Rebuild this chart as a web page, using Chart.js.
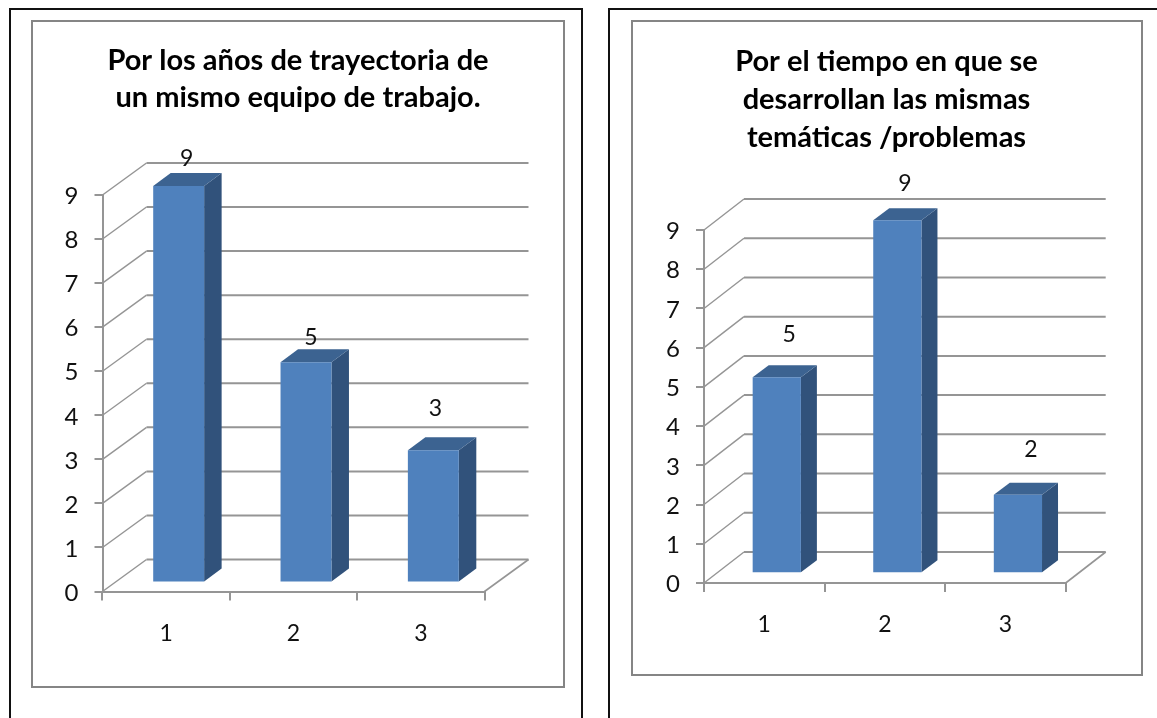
<!DOCTYPE html>
<html lang="es">
<head>
<meta charset="utf-8">
<title>Trayectoria de equipos y temáticas</title>
<script src="https://cdn.jsdelivr.net/npm/chart.js@4/dist/chart.umd.min.js"></script>
<style>
  html, body { margin: 0; padding: 0; background: #fff; overflow: hidden; }
  body { position: relative; width: 1157px; height: 718px; }
  .sheet { position: absolute; box-sizing: border-box; border: 2px solid #111; }
  .frame { position: absolute; box-sizing: border-box; border: 2px solid #858585; }
  canvas { position: absolute; display: block; }
</style>
</head>
<body>
<div class="sheet" style="left:9px;top:8px;width:574px;height:730px"></div>
<div class="sheet" style="left:608px;top:8px;width:580px;height:730px"></div>
<div class="frame" style="left:31px;top:20px;width:534px;height:668px"></div>
<div class="frame" style="left:631px;top:20px;width:512px;height:656px"></div>
<canvas id="teamChart" width="530" height="664" style="left:33px;top:22px"></canvas>
<canvas id="topicChart" width="507" height="653" style="left:633px;top:22px"></canvas>
<script>
const categories = ['1', '2', '3'];
const teamValues = [9, 5, 3];
const topicValues = [5, 9, 2];
const teamTitle = ['Por los años de trayectoria de', 'un mismo equipo de trabajo.'];
const topicTitle = ['Por el tiempo en que se', 'desarrollan las mismas', 'temáticas /problemas'];
const axisMax = 9;

const FONT = 'Lato, "Open Sans", sans-serif';
const FRONT = '#4f81bd', SIDE = '#31527b', TOP = '#3c6391', GRID = '#959595';

// Extrudes the flat bars into prisms, and draws the receding walls behind them.
const prismPlugin = {
  id: 'prism',
  afterLayout(chart) {
    // The title stays centred on the whole panel, not on the narrower plot.
    chart.titleBlock.left = 0;
    chart.titleBlock.right = chart.width;
  },
  beforeDatasetsDraw(chart, args, opts) {
    const { ctx, scales: { x, y } } = chart;
    const { wallX, wallY } = opts;
    ctx.save();
    ctx.strokeStyle = GRID;
    for (const tick of y.ticks) {
      const py = y.getPixelForValue(tick.value);
      ctx.lineWidth = 1.4;
      ctx.beginPath();
      ctx.moveTo(x.left, py);
      ctx.lineTo(x.left + wallX, py + wallY);
      ctx.stroke();
      ctx.lineWidth = 2;
      ctx.beginPath();
      ctx.moveTo(x.left + wallX, py + wallY);
      ctx.lineTo(x.right + wallX, py + wallY);
      ctx.stroke();
    }
    // Outer edge of the floor.
    const floor = y.getPixelForValue(0);
    ctx.lineWidth = 1.6;
    ctx.beginPath();
    ctx.moveTo(x.right, floor);
    ctx.lineTo(x.right + wallX, floor + wallY);
    ctx.stroke();
    ctx.restore();
  },
  beforeDatasetDraw(chart, args, opts) {
    const { ctx } = chart;
    const { shiftX, shiftY, depthX, depthY } = opts;
    ctx.save();
    ctx.translate(shiftX, shiftY);
    for (const bar of chart.getDatasetMeta(args.index).data) {
      const half = bar.width / 2, l = bar.x - half, r = bar.x + half;
      ctx.fillStyle = SIDE;
      ctx.beginPath();
      ctx.moveTo(r, bar.y);
      ctx.lineTo(r + depthX, bar.y + depthY);
      ctx.lineTo(r + depthX, bar.base + depthY);
      ctx.lineTo(r, bar.base);
      ctx.closePath();
      ctx.fill();
      ctx.fillStyle = TOP;
      ctx.beginPath();
      ctx.moveTo(l, bar.y);
      ctx.lineTo(l + depthX, bar.y + depthY);
      ctx.lineTo(r + depthX, bar.y + depthY);
      ctx.lineTo(r, bar.y);
      ctx.closePath();
      ctx.fill();
    }
  },
  afterDatasetDraw(chart) {
    chart.ctx.restore();
  },
  afterDatasetsDraw(chart, args, opts) {
    const { ctx } = chart;
    const meta = chart.getDatasetMeta(0);
    ctx.save();
    ctx.font = '23px ' + FONT;
    ctx.fillStyle = '#111';
    ctx.textAlign = 'center';
    ctx.textBaseline = 'middle';
    meta.data.forEach((bar, i) => {
      const [nx, ny] = opts.labelNudge[i];
      ctx.fillText(String(chart.data.datasets[0].data[i]),
        bar.x + opts.shiftX + nx, bar.y + opts.shiftY + ny);
    });
    ctx.restore();
  }
};

function drawPanel(id, title, values, g) {
  return new Chart(document.getElementById(id), {
    type: 'bar',
    plugins: [prismPlugin],
    data: {
      labels: categories,
      datasets: [{
        data: values,
        backgroundColor: FRONT,
        borderWidth: 0,
        barPercentage: 0.4,
        categoryPercentage: 1,
        clip: false
      }]
    },
    options: {
      responsive: false,
      animation: false,
      layout: { padding: { left: 0, right: g.padRight, top: 0, bottom: 0 } },
      plugins: {
        legend: { display: false },
        tooltip: { enabled: false },
        title: {
          display: true,
          text: title,
          color: '#000',
          font: { family: FONT, size: 29, weight: 'bold', lineHeight: g.titleLine / 29 },
          padding: { top: g.titleTop, bottom: g.titleBottom }
        },
        prism: g
      },
      scales: {
        x: {
          afterFit(s) { s.height = g.axisBottom; },
          grid: {
            offset: true,
            drawOnChartArea: false,
            color: GRID,
            lineWidth: 2,
            tickLength: 9,
            tickColor: GRID
          },
          border: { color: GRID, width: 2 },
          ticks: {
            color: '#111',
            padding: 19,
            font: { family: FONT, size: 23 },
            maxRotation: 0
          }
        },
        y: {
          min: 0,
          max: axisMax,
          afterFit(s) { s.width = g.axisLeft; },
          grid: {
            drawOnChartArea: false,
            color: GRID,
            lineWidth: 2,
            tickLength: 8,
            tickColor: GRID
          },
          border: { color: GRID, width: 2 },
          ticks: {
            stepSize: 1,
            color: '#111',
            padding: 16,
            labelOffset: 1.5,
            font: { family: FONT, size: 24 }
          }
        }
      }
    }
  });
}

drawPanel('teamChart', teamTitle, teamValues, {
  padRight: 78.5, axisLeft: 69.5, axisBottom: 94.5,
  titleLine: 37, titleTop: 20.5, titleBottom: 78.5,
  wallX: 44, wallY: -32, shiftX: 12.5, shiftY: -9, depthX: 17.5, depthY: -13,
  labelNudge: [[8, -27], [5, -25], [2, -42]]
});

drawPanel('topicChart', topicTitle, topicValues, {
  padRight: 74.3, axisLeft: 71, axisBottom: 92,
  titleLine: 38, titleTop: 21, titleBottom: 73,
  wallX: 40, wallY: -31, shiftX: 12.5, shiftY: -9.7, depthX: 16, depthY: -12,
  labelNudge: [[12.5, -43], [7.5, -37], [13, -45]]
});
</script>
</body>
</html>
